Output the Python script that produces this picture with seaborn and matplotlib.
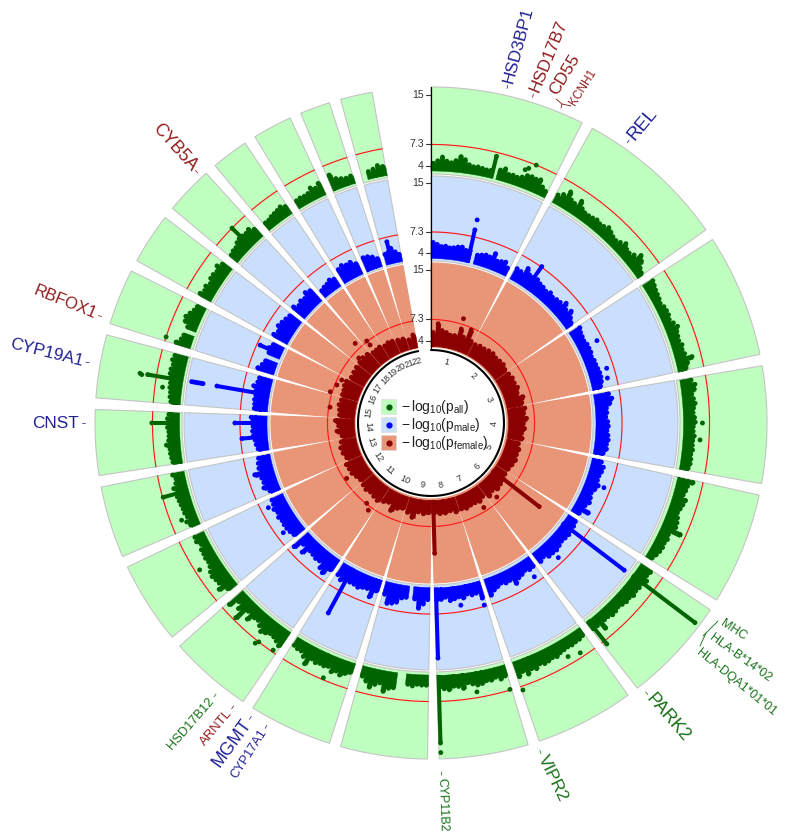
import numpy as np
import pandas as pd
import matplotlib
matplotlib.use("Agg")
import matplotlib.pyplot as plt
from matplotlib.patches import Rectangle
import seaborn as sns

sns.set_theme(style="white")
plt.rcParams["font.family"] = ["Liberation Sans", "DejaVu Sans"]
plt.rcParams["mathtext.fontset"] = "custom"
plt.rcParams["mathtext.rm"] = "Liberation Sans"
plt.rcParams["mathtext.it"] = "Liberation Sans"
plt.rcParams["mathtext.default"] = "rm"

# chromosome boundaries on the circle, degrees clockwise from the top
chrom_bounds = [0, 27.7, 55.9, 79.2, 101.4, 122.8, 143.1, 162.2, 179.6, 196.6, 213, 229.4,
                245.6, 260, 273.3, 286.2, 297.9, 308.7, 319, 327.4, 336.2, 343.4, 349.9]
chrom_names = [str(i) for i in range(1, 23)]

# -log10(p) envelope per chromosome, 0 = nothing there
all_heights = [
    [4.6, 5.0, 5.6, 5.0, 4.8, 5.2, 5.9, 5.5, 4.8, 4.6, 4.7, 4.6, 4.5, 4.6, 0, 5.0, 5.4, 4.7, 4.8, 4.7, 5.0, 5.5, 5.6, 5.5, 5.7, 4.8, 4.4],
    [4.8, 5.3, 6.2, 5.2, 5.0, 5.9, 5.0, 4.7, 4.7, 4.8, 5.0, 4.8, 4.9, 5.3, 5.0, 4.7, 4.6, 4.9, 5.4, 4.9, 4.8, 5.2, 6.0, 5.5, 4.7, 4.4],
    [5.2, 5.0, 4.8, 4.7, 4.6, 4.4, 4.7, 4.8, 4.8, 4.6, 5.0, 5.4, 5.0, 4.9, 4.8, 5.1, 4.9, 5.1, 6.1, 5.2, 4.8],
    [5.2, 5.7, 5.5, 5.0, 5.2, 5.4, 5.1, 5.0, 5.2, 5.3, 5.0, 5.0, 5.2, 5.0, 5.0, 5.1, 4.9, 5.0, 5.0, 4.8],
    [6.0, 5.3, 5.2, 5.0, 5.6, 5.4, 5.2, 5.0, 5.3, 5.5, 5.6, 6.7, 5.0, 5.2, 5.0, 5.1, 5.0, 4.8, 4.5],
    [5.5, 5.3, 5.8, 5.4, 5.5, 5.4, 5.6, 5.3, 5.4, 5.2, 5.0, 5.2, 5.3, 5.0, 5.0, 6.1, 5.0, 5.0],
    [4.8, 5.0, 5.0, 5.1, 5.0, 5.1, 5.2, 5.5, 5.3, 5.5, 5.6, 5.3, 5.8, 5.5, 6.1, 5.4, 6.0],
    [5.2, 5.5, 5.0, 5.3, 5.2, 5.5, 5.6, 5.3, 5.0, 5.8, 5.4, 5.3, 5.8, 5.6, 5.4],
    [5.0, 5.0, 4.9, 5.2, 5.0, 0, 0, 5.8, 6.0, 6.6, 5.4, 5.8, 6.4, 5.6, 5.0],
    [5.0, 5.4, 5.9, 5.5, 5.9, 5.3, 5.5, 5.4, 5.6, 5.3, 6.5, 5.6, 5.0, 5.0, 4.8],
    [6.2, 5.8, 5.5, 5.4, 5.8, 6.1, 5.5, 5.0, 5.1, 6.0, 5.0, 7.1, 5.8, 5.0, 6.4],
    [5.0, 6.1, 5.5, 5.6, 5.8, 5.6, 5.2, 5.0, 5.1, 5.0, 5.0, 4.6, 5.1, 5.0],
    [4.8, 5.2, 4.8, 5.0, 5.0, 5.1, 5.2, 5.3, 5.0, 5.5, 5.0, 4.8, 5.2],
    [4.8, 4.9, 5.0, 5.0, 5.5, 5.1, 5.0, 5.0, 5.2, 5.2, 5.2, 5.0],
    [4.8, 5.0, 5.0, 5.2, 5.2, 5.4, 5.5, 5.5, 5.3, 5.6, 5.4],
    [5.8, 5.2, 5.0, 0, 4.9, 5.6, 5.8, 5.4, 5.0, 4.8],
    [5.4, 5.0, 5.2, 4.8, 5.2, 5.2, 5.0, 5.5, 5.0],
    [4.8, 5.0, 5.0, 5.4, 5.6, 5.5, 5.4, 5.6, 5.0],
    [4.6, 4.6, 4.8, 4.9, 5.0, 5.2, 4.8],
    [4.6, 4.7, 4.6, 4.7, 5.3, 4.9, 5.4],
    [5.9, 5.0, 4.7, 4.5, 4.6],
    [0, 4.5, 4.7, 5.1, 4.8],
]
male_heights = [
    [5.9, 5.6, 5.3, 5.4, 5.2, 5.3, 5.5, 5.6, 5.2, 5.3, 0, 4.9, 5.1, 5.3, 5.2, 6.0, 5.0, 5.2, 5.4, 4.7],
    [5.3, 5.2, 6.2, 5.5, 5.5, 5.6, 5.3, 5.2, 5.0, 5.3, 5.0, 5.2, 5.3, 5.9, 5.2, 5.7, 5.0, 4.6],
    [5.3, 5.0, 4.9, 4.8, 5.0, 5.0, 5.0, 4.8, 5.0, 5.0, 5.1, 5.2, 5.2, 5.1, 4.8],
    [5.8, 6.2, 5.8, 5.2, 5.2, 5.0, 5.3, 5.4, 5.2, 5.4, 5.5, 5.3, 5.4, 5.0],
    [5.0, 5.5, 5.4, 5.2, 5.2, 5.6, 5.3, 5.0, 5.2, 5.4, 5.0, 6.0, 4.8],
    [5.0, 5.2, 5.3, 5.4, 5.3, 5.2, 5.4, 5.6, 5.5, 5.5, 5.0, 5.3],
    [5.2, 5.3, 5.0, 5.3, 5.5, 6.1, 5.2, 5.3, 5.0, 5.3, 5.6, 6.2],
    [6.2, 5.2, 5.3, 5.0, 5.5, 5.2, 5.4, 5.6, 5.0, 5.3, 5.4],
    [5.3, 6.0, 6.7, 5.3, 0, 5.2, 5.4, 6.2, 6.5, 6.7, 5.4],
    [5.3, 6.5, 5.4, 5.5, 5.8, 5.6, 5.6, 5.5, 6.0, 5.5],
    [5.5, 6.6, 6.2, 5.4, 5.5, 5.3, 5.2, 6.2, 5.2, 6.5],
    [5.3, 5.5, 5.6, 5.6, 5.5, 5.7, 5.4, 5.7, 5.4, 5.3],
    [5.0, 5.7, 5.4, 5.5, 6.4, 5.5, 5.4, 5.2],
    [5.0, 5.2, 5.3, 5.5, 5.6, 5.5, 5.6, 5.8],
    [5.4, 5.4, 5.5, 5.4, 5.5, 6.0, 5.5, 5.4],
    [6.1, 5.6, 5.3, 0, 5.3, 5.6, 5.2],
    [5.9, 5.5, 6.0, 5.8, 5.6, 5.4],
    [5.8, 5.3, 5.6, 5.4, 6.0, 5.7],
    [4.5, 4.7, 4.8, 5.1, 4.8],
    [5.7, 6.0, 5.7, 5.8, 5.2],
    [5.6, 5.5, 5.2, 4.7],
    [5.0, 5.2, 5.7, 5.0, 4.5],
]
female_heights = [
    [5.5, 6.9, 5.9, 5.7, 5.4, 5.5, 6.8, 5.7, 7.2, 5.6],
    [5.4, 5.6, 5.6, 5.8, 5.9, 5.7, 5.8, 5.9, 5.6],
    [5.7, 5.9, 5.8, 6.0, 5.6, 6.3, 5.9],
    [6.2, 5.9, 6.3, 5.8, 6.0, 5.6, 5.8],
    [5.4, 5.7, 5.6, 5.8, 5.6, 5.4],
    [5.4, 5.7, 5.8, 6.0, 5.6, 6.0],
    [5.4, 5.8, 5.6, 5.6, 5.8, 5.6],
    [5.8, 5.4, 5.6, 5.6, 5.4],
    [5.4, 5.6, 5.4, 6.4, 5.8],
    [5.4, 5.7, 6.4, 5.4, 5.7],
    [6.1, 5.9, 5.7, 5.9, 5.7],
    [5.5, 5.7, 6.0, 6.0, 6.1],
    [5.6, 5.9, 6.0, 5.7],
    [5.4, 6.1, 5.8, 6.3],
    [5.7, 5.8, 6.0, 5.8],
    [5.9, 5.9, 6.1, 6.1],
    [5.7, 5.8, 5.9],
    [6.0, 6.1, 6.0],
    [5.6, 5.6, 5.7],
    [5.4, 5.6, 5.5],
    [5.3, 5.2],
    [4.8, 5.4],
]

# strong signals that stand out of the envelope (angle, value)
all_spike_deg = [13.8, 127.1, 141.5, 178.3, 254.5, 270, 279.7, 314.4]
all_spike_val = [6.7, 15.5, 7.9, 13.8, 7.2, 7.4, 8.7, 7.3]
male_spike_deg = [12.8, 35.3, 127.3, 178.3, 208.4, 265.3, 270, 279.8, 294.5, 346.3]
male_spike_val = [8.4, 7.4, 15.4, 14.2, 11.2, 7.1, 8.1, 11.4, 6.8, 6.6]
female_spike_deg = [127.7, 178.4]
female_spike_val = [12.5, 11.5]

# single separate dots
all_dot_deg = [22.2, 21, 20.4, 90, 93.6, 147, 149.6, 161, 178.3, 163.5, 170.3, 202.9, 218.6, 218.2, 214.8, 237.6, 248.7, 277.6, 279.7, 279.5, 288]
all_dot_val = [7.3, 6.4, 6.0, 6.2, 5.9, 6.6, 6.1, 7.9, 15.3, 7.2, 6.4, 7.0, 7.8, 7.3, 7.0, 6.6, 5.6, 6.1, 9.9, 9.6, 7.3]
male_dot_deg = [12.8, 63.6, 72.7, 75.7, 110.5, 136.6, 146.1, 163.7, 170.7, 242.5, 233.4, 279.8, 279.8, 279.8, 279.8, 279.8, 279.8, 279.8]
male_dot_val = [10, 6.4, 6.2, 5.9, 6.3, 6.4, 6.4, 7.1, 6.3, 6.1, 6.2, 15.4, 15.1, 14.8, 14.5, 14.2, 13.9, 13.6]
female_dot_deg = [17.3, 138.4, 148, 215.7, 218.7, 236.7, 278.9, 287.2, 292, 295.7, 316.4, 312, 321.9, 322]
female_dot_val = [8.2, 6.6, 6.7, 7.9, 7.2, 6.9, 7.1, 7.6, 7.0, 6.6, 8.3, 6.3, 7.4, 6.6]

tick_values = [4, 7.3, 15]
tick_labels = ["4", "7.3", "15"]

# name, angle, radius, rotation, font size, colour
navy = "#15158f"
dred = "#8b1010"
dgreen = "#0c6a0c"
gene_names = ["HSD3BP1", "HSD17B7", "CD55", "KCNH1", "REL", "MHC", "HLA-B*14*02", "HLA-DQA1*01*01", "PARK2", "VIPR2", "CYP11B2",
              "CYP17A1", "MGMT", "ARNTL", "HSD17B12", "CNST", "CYP19A1", "RBFOX1", "CYB5A"]
gene_theta = [12.8, 17.3, 20.3, 24.0, 35, 124.5, 127.3, 130.5, 141.4, 161.6, 178.3, 208.5, 211.5, 214.9, 218.4, 270, 280, 287.9, 317]
gene_r = [349, 347, 351, 349, 348, 353, 352, 351, 350, 351, 355, 350, 350, 351, 352, 352, 353, 352, 348]
gene_rot = [75, 68, 59, 58, 50, -33, -36, -39, -49, -64, -88, 57, 54, 50, 49, 0, -14, -22, -48]
gene_size = [12.3, 12.3, 12.5, 8.5, 13.4, 9.0, 8.9, 8.9, 13.0, 12.4, 8.9, 9.2, 13.0, 9.4, 9.3, 12.4, 12.3, 12.0, 12.7]
gene_color = [navy, dred, dred, dred, navy, dgreen, dgreen, dgreen, dgreen, dgreen, dgreen, navy, navy, dred, dgreen, navy, navy, dred, dred]
gene_tick = [True, True, False, False, True, False, False, False, True, True, True,
             True, True, True, True, True, True, True, True]

W, H = 786, 836
cx, cy, rmax = 431, 423, 345
px_per_unit = 6.4
v_base = 3

fig = plt.figure(figsize=(W / 100, H / 100), dpi=100)
ax = fig.add_axes([(cx - rmax) / W, (H - cy - rmax) / H, 2 * rmax / W, 2 * rmax / H], projection="polar")
ax.set_theta_zero_location("N")
ax.set_theta_direction(-1)
ax.axis("off")

rings = [
    dict(name="all", base=251, lo=249, hi=336, fill="#bfffbf", edge="#c4c4c4", dot="#006400",
         heights=all_heights, sd=all_spike_deg, sv=all_spike_val, dd=all_dot_deg, dv=all_dot_val),
    dict(name="male", base=163.5, lo=162, hi=247, fill="#c9dffd", edge="#c4c4c4", dot="#0000ff",
         heights=male_heights, sd=male_spike_deg, sv=male_spike_val, dd=male_dot_deg, dv=male_dot_val),
    dict(name="female", base=76, lo=76, hi=160, fill="#e99577", edge="#e99577", dot="#8b0000",
         heights=female_heights, sd=female_spike_deg, sv=female_spike_val, dd=female_dot_deg, dv=female_dot_val),
]


def to_r(ring, v):
    return ring["base"] + (np.asarray(v, dtype=float) - v_base) * px_per_unit


def edges(i, r):
    # the white gaps between chromosomes narrow towards the centre
    half = 0.022 * (r - 70) / r
    lo = np.radians(chrom_bounds[i]) + (half if i > 0 else 0)
    hi = np.radians(chrom_bounds[i + 1]) - (half if i < 21 else 0)
    return lo, hi


rows = []
for ring in rings:
    for i in range(22):
        # cell of this chromosome
        r_side = np.linspace(ring["lo"], ring["hi"], 12)
        a0, a1 = edges(i, ring["hi"])
        b0, b1 = edges(i, ring["lo"])
        left = [edges(i, r)[0] for r in r_side]
        right = [edges(i, r)[1] for r in r_side]
        top = np.linspace(a0, a1, 60)
        bottom = np.linspace(b1, b0, 60)
        th = np.r_[left, top, right[::-1], bottom]
        rr = np.r_[r_side, np.full(60, ring["hi"]), r_side[::-1], np.full(60, ring["lo"])]
        ax.fill(th, rr, facecolor=ring["fill"], edgecolor=ring["edge"], lw=0.8, zorder=1)

        # genome-wide significance line
        r_red = float(to_r(ring, 7.3))
        c0, c1 = edges(i, r_red)
        ax.plot(np.linspace(c0, c1, 60), np.full(60, r_red), color="#ff1a1a", lw=0.85, zorder=2)

        # envelope of the mass of points, as one stepped shape per chromosome
        vals = np.array(ring["heights"][i], dtype=float)
        d0, d1 = edges(i, ring["base"] + 10)
        bins = np.linspace(d0, d1, len(vals) + 1)
        tops = np.where(vals > 0, to_r(ring, vals) - 1.5, np.nan)
        step_t = np.repeat(bins, 2)[1:-1]
        step_r = np.repeat(tops, 2)
        ax.fill_between(step_t, ring["base"] + 1, step_r, where=~np.isnan(step_r), color=ring["dot"],
                        linewidth=0.3, zorder=3)
        for j, t in enumerate((bins[:-1] + bins[1:]) / 2):
            if vals[j] > 0:
                rows.append(dict(theta=t, r=tops[j], ring=ring["name"]))

    for d, v in zip(ring["sd"], ring["sv"]):
        t = np.radians(d)
        rows.append(dict(theta=t, r=float(to_r(ring, v)), ring=ring["name"]))
        ax.vlines(t, ring["base"] + 1, float(to_r(ring, v)), color=ring["dot"], lw=2.9, zorder=3)
    for d, v in zip(ring["dd"], ring["dv"]):
        rows.append(dict(theta=np.radians(d), r=float(to_r(ring, v)), ring=ring["name"]))

points = pd.DataFrame(rows)
palette = {ring["name"]: ring["dot"] for ring in rings}
sns.scatterplot(data=points, x="theta", y="r", hue="ring", palette=palette, s=12, linewidth=0,
                legend=False, ax=ax, zorder=4)

# circle with chromosome numbers
arc = np.radians(np.linspace(0, chrom_bounds[-1], 300))
ax.plot(arc, np.full(300, 73), color="black", lw=1.5, zorder=5)
for i, name in enumerate(chrom_names):
    deg = (chrom_bounds[i] + chrom_bounds[i + 1]) / 2
    if deg < 90:
        rot = -deg
    elif deg < 270:
        rot = 180 - deg
    else:
        rot = 360 - deg
    ax.text(np.radians(deg), 63, name, fontsize=6.6, color="#333333", rotation=rot,
            rotation_mode="anchor", ha="center", va="center", zorder=6)

# gene labels
for name, deg, r, rot, size, col, has_tick in zip(gene_names, gene_theta, gene_r, gene_rot, gene_size, gene_color, gene_tick):
    side = "left" if deg < 180 else "right"
    ax.text(np.radians(deg), r, name, fontsize=size, color=col, rotation=rot, rotation_mode="anchor",
            ha=side, va="center", clip_on=False, alpha=0.95)
    if has_tick:
        ax.plot([np.radians(deg)] * 2, [r - 6, r - 2.5], color=col, lw=0.5, clip_on=False)

ax.set_xlim(0, 2 * np.pi)
ax.set_ylim(0, rmax)

# overlay in image pixels: y axis, legend, brackets
over = fig.add_axes([0, 0, 1, 1], facecolor="none")
over.set_xlim(0, W)
over.set_ylim(H, 0)
over.axis("off")

over.plot([cx, cx], [cy - 336, cy - 74], color="black", lw=0.9, zorder=6)
for ring in rings:
    for v, lab in zip(tick_values, tick_labels):
        y = cy - float(to_r(ring, v))
        over.plot([cx - 5, cx], [y, y], color="#333333", lw=0.8)
        over.text(cx - 7, y, lab, ha="right", va="center", fontsize=7.6, color="#333333")

legend_y = [407, 425, 442.5]
legend_txt = [r"$-\,\mathrm{log}_{10}(\mathrm{p}_{\mathrm{all}})$", r"$-\,\mathrm{log}_{10}(\mathrm{p}_{\mathrm{male}})$",
              r"$-\,\mathrm{log}_{10}(\mathrm{p}_{\mathrm{female}})$"]
for ring, y, txt in zip(rings, legend_y, legend_txt):
    over.add_patch(Rectangle((381, y - 7.7), 15, 15, facecolor=ring["fill"], edgecolor="#dddddd", lw=0.5))
    over.scatter([388.5], [y], s=20, color=ring["dot"], linewidth=0, zorder=3)
    over.text(401, y, txt, fontsize=10.0, color="#222222", va="center", ha="left")

# brackets next to the grouped labels
over.plot([718, 706, 700], [621, 633, 646], color=dgreen, lw=0.6)
over.plot([706, 703], [633, 636], color=dgreen, lw=0.6)
over.plot([556, 562, 571], [99, 104, 106], color=dred, lw=0.6)
over.plot([562, 561], [104, 108], color=dred, lw=0.6)

fig.savefig("out.png", dpi=100, facecolor="white")
